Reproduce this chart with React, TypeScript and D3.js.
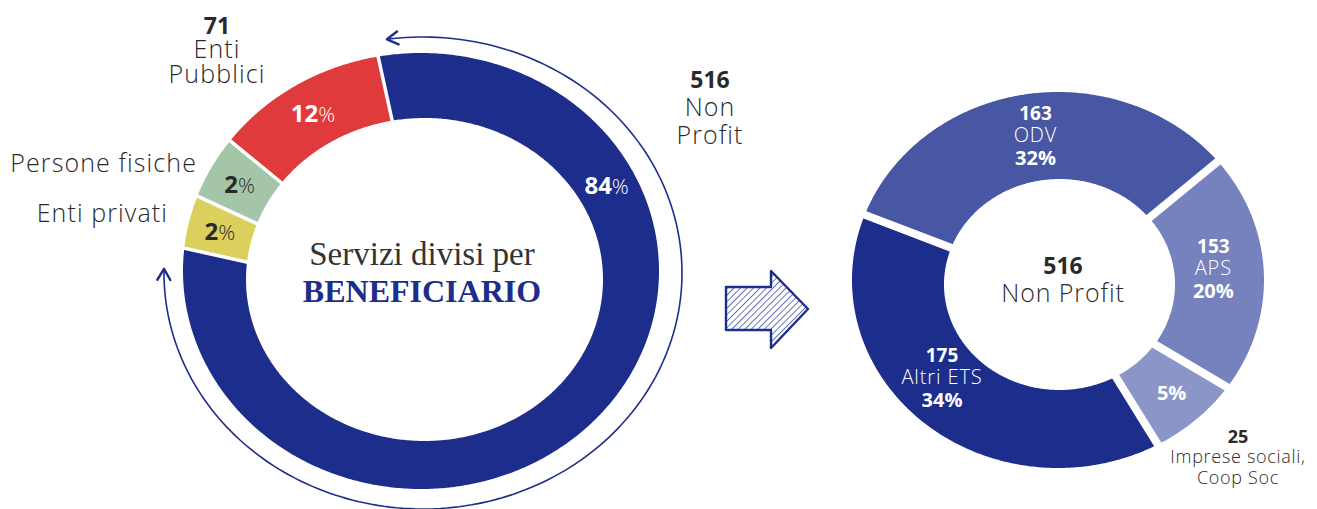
import React from "react";
import * as d3 from "d3";

const W = 1317;
const H = 509;

// ---------- Left chart: Servizi divisi per beneficiario ----------
const beneficiari = ["Non Profit", "Enti privati", "Persone fisiche", "Enti Pubblici"];
const beneficiariPct = [84, 2, 2, 12];
// angular share of each slice as drawn in the picture
const beneficiariArc = [79.5, 3.9, 4.6, 11.9];
const beneficiariCount: (number | null)[] = [516, null, null, 71];
const beneficiariColor = ["#1c2d8c", "#dbd05d", "#a5c5a9", "#e03a3c"];
const beneficiariPctColor = ["#ffffff", "#2a2a2a", "#2a2a2a", "#ffffff"];

// ---------- Right chart: Non Profit breakdown ----------
const npCats = ["ODV", "APS", "Imprese sociali, Coop Soc", "Altri ETS"];
const npCount = [163, 153, 25, 175];
const npPct = [32, 20, 5, 34];
const npArc = [33.5, 20.5, 7.3, 38.7];
const npColor = ["#4857a3", "#7582bd", "#8b96c8", "#1c2d8c"];
const npTotal = 516;

const NAVY = "#1c2d8c";
const DARK = "#2a2a2a";
const SANS = "'Open Sans', 'Noto Sans', sans-serif";
const SERIF = "'Liberation Serif', 'DejaVu Serif', serif";
const deg = Math.PI / 180;

type Ring = { ocx: number; ocy: number; orx: number; ory: number; icx: number; icy: number; irx: number; iry: number };

const leftRing: Ring = { ocx: 421, ocy: 271, orx: 238, ory: 218, icx: 424.5, icy: 279.5, irx: 178.5, iry: 161.5 };
const rightRing: Ring = { ocx: 1058, ocy: 280, orx: 206, ory: 188, icx: 1059.5, icy: 284.5, irx: 115.5, iry: 105.5 };

const pt = (cx: number, cy: number, rx: number, ry: number, t: number): [number, number] => [
  cx + rx * Math.sin(t),
  cy - ry * Math.cos(t),
];

const line = d3.line<[number, number]>().curve(d3.curveLinearClosed);
const openLine = d3.line<[number, number]>();

function segPath(r: Ring, a0: number, a1: number) {
  const n = Math.max(8, Math.ceil((a1 - a0) / 0.01));
  const ts = d3.range(n + 1).map((i) => a0 + ((a1 - a0) * i) / n);
  const outer = ts.map((t) => pt(r.ocx, r.ocy, r.orx, r.ory, t));
  const inner = ts.slice().reverse().map((t) => pt(r.icx, r.icy, r.irx, r.iry, t));
  return line([...outer, ...inner]) as string;
}

function gapLine(r: Ring, t: number, ext: number): [number, number][] {
  return [pt(r.icx, r.icy, r.irx - ext, r.iry - ext, t), pt(r.ocx, r.ocy, r.orx + ext, r.ory + ext, t)];
}

function midPt(r: Ring, t: number, f = 0.5): [number, number] {
  return pt(
    r.icx + (r.ocx - r.icx) * f,
    r.icy + (r.ocy - r.icy) * f,
    r.irx + (r.orx - r.irx) * f,
    r.iry + (r.ory - r.iry) * f,
    t
  );
}

// layout for left annotations
const leftLabelAngle: (number | null)[] = [62, null, null, null];
const leftExt = [
  { x: 710, ys: [88, 116, 144], anchor: "middle", lines: ["Non", "Profit"] },
  { x: 168, ys: [222], anchor: "end", lines: ["Enti privati"] },
  { x: 197, ys: [172], anchor: "end", lines: ["Persone fisiche"] },
  { x: 217, ys: [34, 58, 83], anchor: "middle", lines: ["Enti", "Pubblici"] },
];
// right label offsets from centroid
const npOffset: [number, number][] = [[3, -2], [-6, -9], [5, 2], [-12, -17]];

// outer double-headed arrow around left donut
const loop = { cx: 423, cy: 273, rx: 259, ry: 236, t0: -8 * deg, t1: 271 * deg };

function arrowHead(tip: [number, number], dir: [number, number], L = 11, w = 6.5): [number, number][] {
  const len = Math.hypot(dir[0], dir[1]);
  const ux = dir[0] / len, uy = dir[1] / len;
  const px = -uy, py = ux;
  const bx = tip[0] - ux * L, by = tip[1] - uy * L;
  return [[bx + px * w, by + py * w], tip, [bx - px * w, by - py * w]];
}

export default function App() {
  const leftPie = d3
    .pie<number>()
    .sort(null)
    .value((d) => d)
    .startAngle(-10.4 * deg)
    .endAngle(-10.4 * deg + 2 * Math.PI)(beneficiariArc);

  const rightPie = d3
    .pie<number>()
    .sort(null)
    .value((d) => d)
    .startAngle(-69.7 * deg)
    .endAngle(-69.7 * deg + 2 * Math.PI)(npArc);

  const loopTs = d3.range(0, 201).map((i) => loop.t0 + ((loop.t1 - loop.t0) * i) / 200);
  const loopPts = loopTs.map((t) => pt(loop.cx, loop.cy, loop.rx, loop.ry, t));
  const tan = (t: number): [number, number] => [loop.rx * Math.cos(t), loop.ry * Math.sin(t)];
  const headStart = arrowHead(loopPts[0], [-tan(loop.t0)[0], -tan(loop.t0)[1]]);
  const headEnd = arrowHead(loopPts[loopPts.length - 1], tan(loop.t1));

  // middle hatched arrow (decoration)
  const ax = 726, ay = 271;
  const arrowPts: [number, number][] = [
    [ax, ay + 16], [ax + 45, ay + 16], [ax + 45, ay], [ax + 82, ay + 38],
    [ax + 45, ay + 77], [ax + 45, ay + 59], [ax, ay + 59],
  ];

  const LS = 1.1;

  return (
    <svg width={W} height={H} style={{ position: "absolute", left: 0, top: 0, display: "block", background: "#fff" }}>
      <defs>
        <pattern id="hatch" patternUnits="userSpaceOnUse" width={4.6} height={4.6} patternTransform="rotate(45)">
          <line x1={0} y1={0} x2={0} y2={4.6} stroke={NAVY} strokeWidth={1.3} />
        </pattern>
      </defs>

      {/* Left donut */}
      <g>
        {leftPie.map((s, i) => (
          <path key={i} d={segPath(leftRing, s.startAngle, s.endAngle)} fill={beneficiariColor[i]} />
        ))}
        {leftPie.map((s, i) => (
          <path key={"g" + i} d={openLine(gapLine(leftRing, s.startAngle, 3)) as string} stroke="#fff" strokeWidth={3.5} />
        ))}
        {leftPie.map((s, i) => {
          const t = leftLabelAngle[i] != null ? (leftLabelAngle[i] as number) * deg : (s.startAngle + s.endAngle) / 2;
          const [x, y] = midPt(leftRing, t);
          return (
            <text key={"p" + i} x={x} y={y + 8} textAnchor="middle" fontFamily={SANS} fill={beneficiariPctColor[i]}>
              <tspan fontWeight={700} fontSize={24}>{beneficiariPct[i]}</tspan>
              <tspan fontWeight={300} fontSize={21}>%</tspan>
            </text>
          );
        })}
        {/* outer loop arrow */}
        <path d={openLine(loopPts) as string} fill="none" stroke={NAVY} strokeWidth={1.6} />
        <path d={openLine(headStart) as string} fill="none" stroke={NAVY} strokeWidth={2.4} strokeLinecap="round" strokeLinejoin="round" />
        <path d={openLine(headEnd) as string} fill="none" stroke={NAVY} strokeWidth={2.4} strokeLinecap="round" strokeLinejoin="round" />

        {/* external labels */}
        {leftExt.map((l, i) => {
          const cnt = beneficiariCount[i];
          const lines = cnt != null ? [String(cnt), ...l.lines] : l.lines;
          return (
            <text key={"e" + i} textAnchor={l.anchor as any} fontFamily={SANS} fill={DARK}>
              {lines.map((s, j) => {
                const bold = cnt != null && j === 0;
                return (
                  <tspan
                    key={j}
                    x={l.x}
                    y={l.ys[j]}
                    fontWeight={bold ? 700 : 300}
                    fontSize={bold ? 23 : 25}
                    letterSpacing={bold ? 0 : LS}
                  >
                    {s}
                  </tspan>
                );
              })}
            </text>
          );
        })}

        {/* center title */}
        <text x={422} y={265} textAnchor="middle" fontFamily={SERIF} fontSize={33} fill="#333">
          Servizi divisi per
        </text>
        <text x={422} y={302} textAnchor="middle" fontFamily={SERIF} fontWeight={700} fontSize={32} fill={NAVY}>
          BENEFICIARIO
        </text>
      </g>

      {/* Middle arrow */}
      <path d={line(arrowPts) as string} fill="url(#hatch)" stroke={NAVY} strokeWidth={2.4} strokeLinejoin="round" />

      {/* Right donut */}
      <g>
        {rightPie.map((s, i) => (
          <path key={i} d={segPath(rightRing, s.startAngle, s.endAngle)} fill={npColor[i]} />
        ))}
        {rightPie.map((s, i) => (
          <path key={"g" + i} d={openLine(gapLine(rightRing, s.startAngle, 4)) as string} stroke="#fff" strokeWidth={8} />
        ))}
        {rightPie.map((s, i) => {
          const t = (s.startAngle + s.endAngle) / 2;
          const [mx, my] = midPt(rightRing, t);
          const x = mx + npOffset[i][0];
          const y = my + npOffset[i][1];
          if (i === 2) {
            return (
              <text key={"l" + i} x={x} y={y + 7} textAnchor="middle" fontFamily={SANS} fontWeight={700} fontSize={20} fill="#fff">
                {npPct[i]}%
              </text>
            );
          }
          return (
            <text key={"l" + i} x={x} textAnchor="middle" fontFamily={SANS} fill="#fff">
              <tspan x={x} y={y - 15} fontWeight={700} fontSize={19}>{npCount[i]}</tspan>
              <tspan x={x} y={y + 7} fontWeight={300} fontSize={20} letterSpacing={0.9}>{npCats[i]}</tspan>
              <tspan x={x} y={y + 30} fontWeight={700} fontSize={20}>{npPct[i]}%</tspan>
            </text>
          );
        })}
        {/* Imprese sociali external label */}
        <text textAnchor="middle" fontFamily={SANS} fill={DARK}>
          <tspan x={1238} y={443} fontWeight={700} fontSize={18}>{npCount[2]}</tspan>
          <tspan x={1238} y={463} fontWeight={300} fontSize={18} letterSpacing={0.7}>{npCats[2].split(" Coop")[0]}</tspan>
          <tspan x={1238} y={484} fontWeight={300} fontSize={18} letterSpacing={0.7}>{"Coop" + npCats[2].split(" Coop")[1]}</tspan>
        </text>
        {/* center */}
        <text textAnchor="middle" fontFamily={SANS} fill={DARK}>
          <tspan x={1063} y={274} fontWeight={700} fontSize={23}>{npTotal}</tspan>
          <tspan x={1063} y={302} fontWeight={300} fontSize={25} letterSpacing={0.9}>Non Profit</tspan>
        </text>
      </g>
    </svg>
  );
}
